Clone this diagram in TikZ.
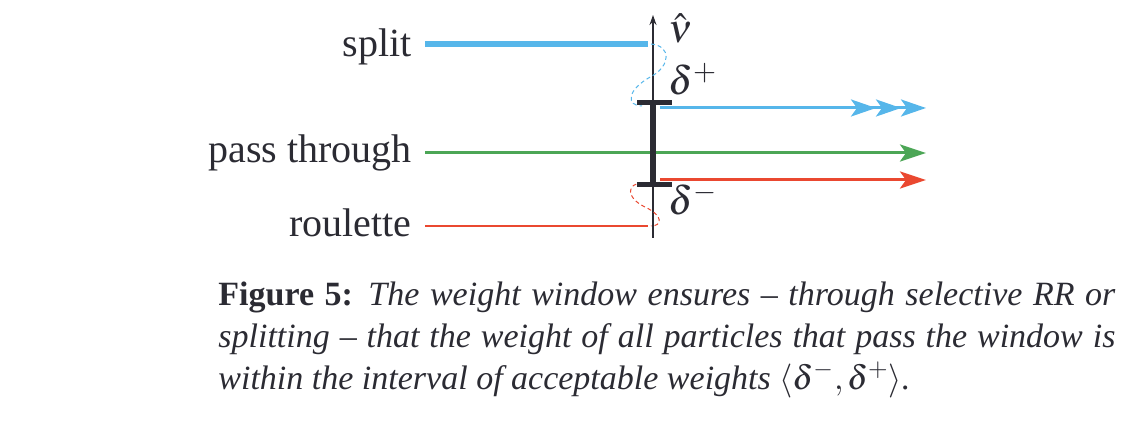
\documentclass[tikz,border=0pt]{standalone}
\usepackage{mathptmx}
\usepackage{fontspec}
\setmainfont{Liberation Serif}
\usetikzlibrary{arrows.meta}
\definecolor{SplitBlue}{RGB}{86,182,234}
\definecolor{PassGreen}{RGB}{76,166,86}
\definecolor{RouletteRed}{RGB}{234,72,48}
\definecolor{InkGray}{RGB}{43,43,51}
\tikzset{
    headtip/.style={-{Stealth[length=13pt,width=8.5pt,inset=3pt]}},
    tripletip/.style={-{Stealth[length=12.5pt,width=8.5pt,inset=3pt]Stealth[length=12.5pt,width=8.5pt,inset=3pt]Stealth[length=12.5pt,width=8.5pt,inset=3pt]}},
    wiggle/.style={line width=0.5pt,dash pattern=on 2pt off 1.5pt},
    label/.style={anchor=base east,inner sep=0pt,font=\fontsize{20}{24}\selectfont},
    mathlabel/.style={anchor=base west,inner sep=0pt,font=\fontsize{20}{24}\selectfont}
}

\begin{document}
\begin{tikzpicture}[x=0.5pt,y=-0.5pt,color=InkGray]
    \useasboundingbox (0,0) rectangle (1140,426);
    % labels on the left
    \node[label] (SplitLabel) at (412,57) {split};
    \node[label] (PassLabel) at (412,163) {pass through};
    \node[label] (RouletteLabel) at (412,237) {roulette};
    % incoming and outgoing particles
    \coordinate (SplitStart) at (425,44);
    \coordinate (SplitEnd) at (648,44);
    \coordinate (PassStart) at (425,153);
    \coordinate (PassEnd) at (926,153);
    \coordinate (RouletteStart) at (425,226);
    \coordinate (RouletteEnd) at (648,226);
    \coordinate (SplitOutStart) at (660,108);
    \coordinate (SplitOutEnd) at (926,108);
    \coordinate (RouletteOutStart) at (660,180);
    \coordinate (RouletteOutEnd) at (926,180);
    \draw[SplitBlue,line width=3pt] (SplitStart) -- (SplitEnd);
    \draw[PassGreen,line width=1.5pt,headtip] (PassStart) -- (PassEnd);
    \draw[RouletteRed,line width=1pt] (RouletteStart) -- (RouletteEnd);
    \draw[SplitBlue,line width=1.5pt,tripletip] (SplitOutStart) -- (SplitOutEnd);
    \draw[RouletteRed,line width=1.5pt,headtip] (RouletteOutStart) -- (RouletteOutEnd);
    % weight axis
    \coordinate (AxisBottom) at (653,238);
    \coordinate (AxisTop) at (653,15);
    \draw[line width=0.6pt,-{Stealth[length=5pt,width=3.5pt]}] (AxisBottom) -- (AxisTop);
    \node[mathlabel] (NuHat) at (668,43) {$\hat{\nu}$};
    % dashed jumps
    \draw[SplitBlue,wiggle] (651,44) .. controls (672,46) and (670,66) .. (652,76)
        .. controls (626,90) and (626,106) .. (642,106);
    \draw[RouletteRed,wiggle] (643,183) .. controls (626,183) and (626,198) .. (645,207)
        .. controls (664,216) and (662,226) .. (651,226);
    % the window
    \coordinate (WinTop) at (653,103);
    \coordinate (WinBottom) at (653,185);
    \draw[line width=3pt] (WinTop) -- (WinBottom);
    \draw[line width=2.5pt] ([xshift=-8pt]WinTop) -- ([xshift=9.5pt]WinTop);
    \draw[line width=2.5pt] ([xshift=-8pt]WinBottom) -- ([xshift=9.5pt]WinBottom);
    \node[mathlabel] (DeltaPlus) at (668,95) {$\delta^{+}$};
    \node[mathlabel] (DeltaMinus) at (668,215) {$\delta^{-}$};
    % caption
    \node[anchor=north west,inner sep=0pt,text width=448.5pt,align=justify,
        font=\fontsize{17}{20.8}\selectfont] (Caption) at (218,282)
        {\textbf{Figure 5:} \textit{The weight window ensures -- through selective RR or\linebreak
        splitting -- that the weight of all particles that pass the window is\linebreak
        within the interval of acceptable weights $\langle\delta^-,\delta^+\rangle$.}};
\end{tikzpicture}
\end{document}
